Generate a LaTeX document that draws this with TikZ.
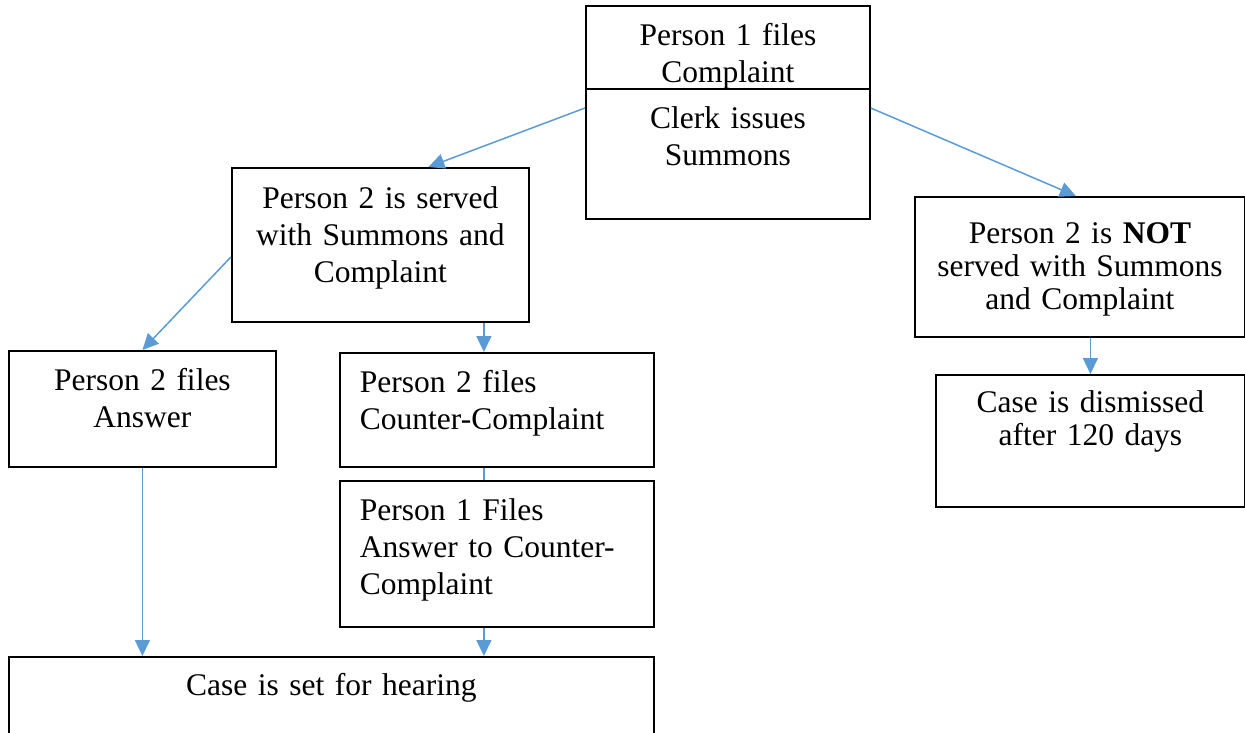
\documentclass[tikz,border=0pt]{standalone}
\usepackage{fontspec}
\setmainfont{Liberation Serif}
\usetikzlibrary{arrows.meta}
\definecolor{linkblue}{HTML}{5B9BD5}
\tikzset{
  block/.style={rectangle, draw, line width=1.8pt, anchor=north west, inner ysep=0pt, inner xsep=10pt, align=center, text height=40pt, font=\fontsize{31.5}{37}\selectfont},
  leftblock/.style={block, inner xsep=20pt, align=left},
  rightblock/.style={block, font=\fontsize{31.5}{33}\selectfont},
  arrow/.style={-{Triangle[length=16pt,width=15pt]}, draw=linkblue, line width=1.5pt},
  link/.style={draw=linkblue, line width=1.5pt},
}

\begin{document}
\begin{tikzpicture}[x=1pt, y=-1pt]
  \useasboundingbox (0,0) rectangle (1245,733);

  % Nodes
  \node[block, text width=264pt, text depth=43pt] (complaint) at (585,5) {Person 1 files\\Complaint};
  \node[block, text width=264pt, text depth=90pt] (clerk) at (585,88) {Clerk issues\\Summons};
  \node[block, text width=277pt, text depth=113pt, text height=41pt] (served) at (231,167) {Person 2 is served\\with Summons and\\Complaint};
  \node[block, text width=247pt, text depth=76pt] (answer) at (8,350) {Person 2 files\\Answer};
  \node[leftblock, text width=274pt, text depth=74pt] (counter) at (339,352) {Person 2 files\\Counter-Complaint};
  \node[leftblock, text width=274pt, text depth=106pt] (p1answer) at (339,480) {Person 1 Files\\Answer to Counter-\\Complaint};
  \node[block, text width=625pt, text depth=60pt, text height=39pt] (hearing) at (8,656) {Case is set for hearing};
  \node[rightblock, text width=310pt, text depth=93pt, text height=47pt] (notserved) at (914,196) {Person 2 is \textbf{NOT}\\served with Summons\\and Complaint};
  \node[rightblock, text width=289pt, text depth=94pt, text height=38pt] (dismissed) at (935,374) {Case is dismissed\\after 120 days};

  % Arrows
  \draw[arrow] ([yshift=-20pt]clerk.north west) -- ([xshift=48pt]served.north);
  \draw[arrow] ([yshift=-20pt]clerk.north east) -- ([xshift=-4pt]notserved.north);
  \draw[arrow] ([yshift=-12pt]served.west) -- (answer.north);
  \draw[arrow] ([xshift=-13pt]counter.north |- served.south) -- ([xshift=-13pt]counter.north);
  \draw[link] ([xshift=-13pt]counter.south) -- ([xshift=-13pt]p1answer.north);
  \draw[arrow] (answer.south) -- (answer.south |- hearing.north);
  \draw[arrow] ([xshift=-13pt]p1answer.south) -- ([xshift=-13pt]p1answer.south |- hearing.north);
  \draw[arrow] (dismissed.north |- notserved.south) -- (dismissed.north);

\end{tikzpicture}
\end{document}
